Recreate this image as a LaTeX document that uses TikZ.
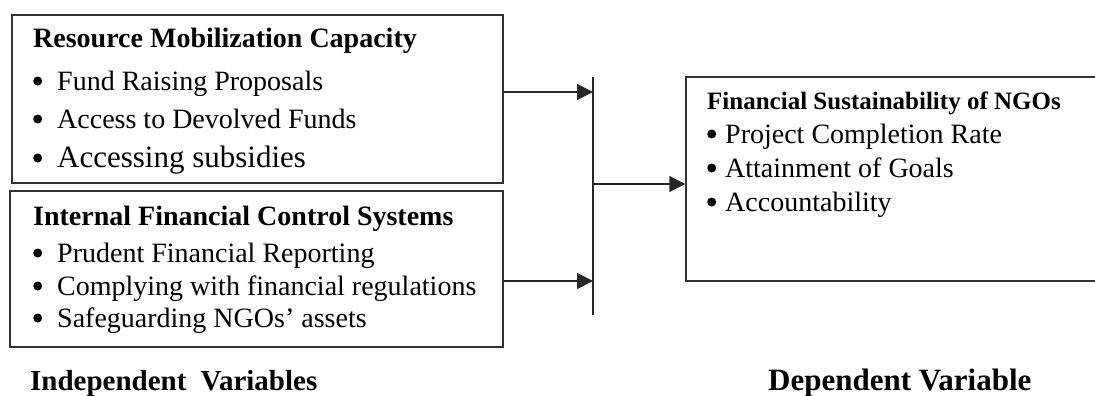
\documentclass[tikz,border=0pt]{standalone}
\usepackage{fontspec}
\setmainfont{Liberation Serif}
\usetikzlibrary{arrows.meta}
\newcommand{\dotmark}{\raisebox{4.5pt}{\tikz\fill (0,0) circle (4.5pt);}}
\newcommand{\bitem}[2][24pt]{\makebox[#1][l]{\dotmark}#2}
\newcommand{\sz}[1]{\fontsize{#1}{#1}\selectfont}

\begin{document}
\begin{tikzpicture}[x=1pt, y=-1pt]
  \tikzset{
    varbox/.style={draw=black!80, line width=1.5pt, inner sep=0pt},
    head/.style={anchor=base west, inner sep=0pt, font=\bfseries\sz{28}},
    entry/.style={anchor=base west, inner sep=0pt, font=\sz{28}},
    caption/.style={anchor=base west, inner sep=0pt, font=\bfseries\sz{29}},
    link/.style={draw=black!85, line width=1.5pt},
    flow/.style={link, -{Triangle[length=16pt, width=16pt]}}
  }
  \useasboundingbox (0,0) rectangle (1095,396);

  \node[varbox, minimum width=491pt, minimum height=168pt] (rmc) at (257.5,99) {};
  \node[head] (rmchead) at (33,48) {Resource Mobilization Capacity};
  \node[entry] (rmc1) at (33,90) {\bitem{Fund Raising Proposals}};
  \node[entry] (rmc2) at (33,128) {\bitem{Access to Devolved Funds}};
  \node[entry, font=\sz{31}] (rmc3) at (33,167) {\bitem{Accessing subsidies}};

  \node[varbox, minimum width=493pt, minimum height=156pt] (ifcs) at (256.5,269) {};
  \node[head] (ifcshead) at (33,225) {Internal Financial Control Systems};
  \node[entry] (ifcs1) at (33,262) {\bitem{Prudent Financial Reporting}};
  \node[entry] (ifcs2) at (33,295) {\bitem{Complying with financial regulations}};
  \node[entry] (ifcs3) at (33,327) {\bitem{Safeguarding NGOs’ assets}};

  \node[varbox, minimum width=414pt, minimum height=204pt] (fsn) at (893,179) {};
  \node[head, font=\bfseries\sz{25}] (fsnhead) at (707,110) {Financial Sustainability of NGOs};
  \node[entry] (fsn1) at (707,143) {\bitem[18pt]{Project Completion Rate}};
  \node[entry] (fsn2) at (707,177) {\bitem[18pt]{Attainment of Goals}};
  \node[entry] (fsn3) at (707,211) {\bitem[18pt]{Accountability}};

  \node[caption] (indep) at (30,390) {Independent\hspace{7pt} Variables};
  \node[caption, font=\bfseries\sz{31}] (dep) at (768,390) {Dependent Variable};

  \coordinate (bartop) at (593,77);
  \coordinate (barbot) at (593,315);
  \coordinate (in1) at (593,92);
  \coordinate (in2) at (593,281);
  \coordinate (out) at (593,184);
  \draw[link] (bartop) -- (barbot);
  \draw[flow] (rmc.east |- in1) -- (in1);
  \draw[flow] (ifcs.east |- in2) -- (in2);
  \draw[flow] (out) -- (fsn.west |- out);
\end{tikzpicture}
\end{document}
